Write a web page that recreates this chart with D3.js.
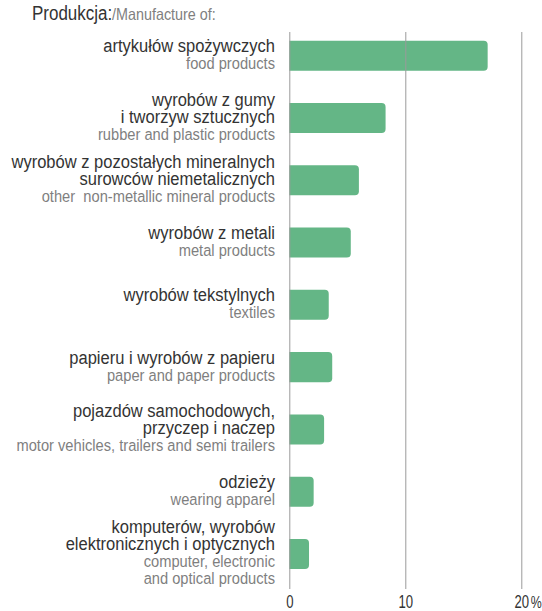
<!DOCTYPE html>
<html>
<head>
<meta charset="utf-8">
<script src="https://cdn.jsdelivr.net/npm/d3@7"></script>
<style>
  html, body { margin: 0; padding: 0; background: #fff; }
  svg { display: block; font-family: "Liberation Sans", Arial, sans-serif; }
</style>
</head>
<body>
<svg id="chart" width="542" height="611"></svg>
<script>
// Share of manufacturing divisions, %
const polishLabels = [
  ["artykułów spożywczych"],
  ["wyrobów z gumy", "i tworzyw sztucznych"],
  ["wyrobów z pozostałych mineralnych", "surowców niemetalicznych"],
  ["wyrobów z metali"],
  ["wyrobów tekstylnych"],
  ["papieru i wyrobów z papieru"],
  ["pojazdów samochodowych,", "przyczep i naczep"],
  ["odzieży"],
  ["komputerów, wyrobów", "elektronicznych i optycznych"]
];
const englishLabels = [
  ["food products"],
  ["rubber and plastic products"],
  ["other  non-metallic mineral products"],
  ["metal products"],
  ["textiles"],
  ["paper and paper products"],
  ["motor vehicles, trailers and semi trailers"],
  ["wearing apparel"],
  ["computer, electronic", "and optical products"]
];
const values = [17.1, 8.3, 6.0, 5.3, 3.4, 3.7, 3.0, 2.1, 1.7];
const tickValues = [0, 10, 20];
const titleMain = "Produkcja:";
const titleSub = "/Manufacture of:";
const unit = "%";

const svg = d3.select("#chart");
const idx = d3.range(values.length);

const x = d3.scaleLinear().domain([0, 20]).range([289.3, 521.3]);
const y = d3.scaleBand().domain(idx).range([40.7, 569]).paddingInner(0.518).paddingOuter(0);

const barColor = "#64b686";
const darkText = "#333333";
const greyText = "#7f7f7f";
// horizontal condensing for the narrow lettering
const condensePl = 0.87;
const condenseEn = 0.89;

// Title
const title = svg.append("text")
  .attr("transform", `translate(32,20) scale(${condensePl},1)`);
title.append("tspan").attr("font-size", 19.5).attr("fill", darkText).text(titleMain);
title.append("tspan").attr("font-size", 16.5).attr("fill", greyText).text(titleSub);

// Bars: square at the baseline, rounded at the value end
const r = 4;
svg.append("g").selectAll("path").data(idx).join("path")
  .attr("fill", barColor)
  .attr("d", i => {
    const x0 = x(0), x1 = x(values[i]), y0 = y(i), h = y.bandwidth();
    const p = d3.path();
    p.moveTo(x0, y0);
    p.lineTo(x1 - r, y0);
    p.quadraticCurveTo(x1, y0, x1, y0 + r);
    p.lineTo(x1, y0 + h - r);
    p.quadraticCurveTo(x1, y0 + h, x1 - r, y0 + h);
    p.lineTo(x0, y0 + h);
    p.closePath();
    return p.toString();
  });

// Gridlines and tick labels
const axis = d3.axisBottom(x).tickValues(tickValues).tickSize(-(589 - 32)).tickPadding(0).tickFormat(d => d);
const gAxis = svg.append("g").attr("transform", "translate(0,589)").call(axis);
gAxis.select(".domain").remove();
gAxis.selectAll(".tick line").attr("stroke", "#9a9a9a").attr("stroke-width", 1);
gAxis.selectAll(".tick text")
  .attr("y", 0).attr("dy", 0)
  .attr("transform", "translate(0,18.5) scale(0.75,1)")
  .attr("font-size", 17.5).attr("fill", darkText)
  .attr("font-family", "Liberation Sans, Arial, sans-serif");
gAxis.selectAll(".tick").filter(d => d === tickValues[tickValues.length - 1])
  .append("text")
  .attr("transform", "translate(9,18.5) scale(0.75,1)")
  .attr("text-anchor", "start")
  .attr("font-size", 16.5).attr("fill", darkText)
  .text(unit);

// Category labels, right aligned, centred on each bar
const lineH = 17;
const labelX = 275;
const gLabels = svg.append("g").attr("text-anchor", "end");
idx.forEach(i => {
  const lines = polishLabels[i].map(t => ({t, pl: true}))
    .concat(englishLabels[i].map(t => ({t, pl: false})));
  const cy = y(i) + y.bandwidth() / 2;
  const n = lines.length;
  lines.forEach((ln, k) => {
    const ty = cy + (k - (n - 1) / 2) * lineH + 5;
    gLabels.append("text")
      .attr("transform", `translate(${labelX},${ty}) scale(${ln.pl ? condensePl : condenseEn},1)`)
      .attr("font-size", ln.pl ? 19 : 16.5)
      .attr("fill", ln.pl ? darkText : greyText)
      .attr("xml:space", "preserve")
      .style("white-space", "pre")
      .text(ln.t);
  });
});
</script>
</body>
</html>
